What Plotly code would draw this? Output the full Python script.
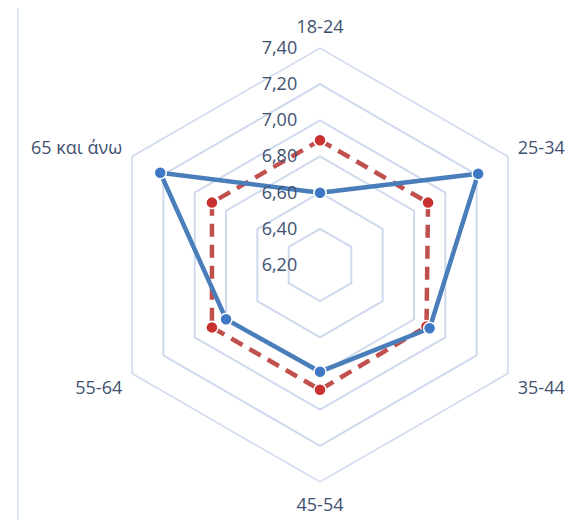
import plotly.graph_objects as go

# age groups and the two series
categories = ["18-24", "25-34", "35-44", "45-54", "55-64", "65 και άνω"]
series_a = [6.60, 7.21, 6.90, 6.79, 6.80, 7.22]
series_b = [6.89, 6.89, 6.88, 6.89, 6.89, 6.89]
radial_ticks = [6.2, 6.4, 6.6, 6.8, 7.0, 7.2, 7.4]

text_color = "#3f5170"
grid_color = "#cfd9ee"

# the page body adds an 8px offset, so the figure is drawn 8px smaller
W, H = 569, 512

fig = go.Figure()

# close the loops
cats = categories + categories[:1]

fig.add_trace(go.Scatterpolar(
    r=series_b + series_b[:1], theta=cats,
    mode="lines+markers",
    line=dict(color="#c0504d", width=4.5, dash="13px,8px"),
    marker=dict(size=12, color="#c8312f", line=dict(color="white", width=1.5)),
    showlegend=False,
))
fig.add_trace(go.Scatterpolar(
    r=series_a + series_a[:1], theta=cats,
    mode="lines+markers",
    line=dict(color="#4a7ebb", width=4.5),
    marker=dict(size=12, color="#3f78c4", line=dict(color="white", width=1.5)),
    showlegend=False,
))

fig.update_layout(
    width=W, height=H,
    margin=dict(l=0, r=0, t=0, b=0),
    paper_bgcolor="white",
    separators=",.",
    font=dict(family="Open Sans, sans-serif", size=18, color=text_color),
    polar=dict(
        domain=dict(x=[95/W, 529/W], y=[38/H, 472/H]),
        bgcolor="white",
        gridshape="linear",
        radialaxis=dict(
            range=[6.2, 7.4],
            tickvals=radial_ticks,
            tickformat=".2f",
            angle=90,
            tickangle=90,
            side="counterclockwise",
            showline=False,
            ticks="outside",
            ticklen=16,
            tickcolor="rgba(0,0,0,0)",
            showgrid=True,
            gridcolor=grid_color,
            gridwidth=1.5,
            tickfont=dict(size=18, color=text_color),
        ),
        angularaxis=dict(
            rotation=90,
            direction="clockwise",
            showgrid=False,
            showline=True,
            linecolor=grid_color,
            linewidth=1.5,
            ticks="outside",
            ticklen=7,
            tickcolor="rgba(0,0,0,0)",
            tickfont=dict(size=18, color=text_color),
        ),
    ),
)

# left edge of the chart frame
fig.add_shape(type="line", xref="paper", yref="paper",
              x0=10/W, x1=10/W, y0=0, y1=1,
              line=dict(color="#dfe6f3", width=2))

fig.write_html("out.html")
